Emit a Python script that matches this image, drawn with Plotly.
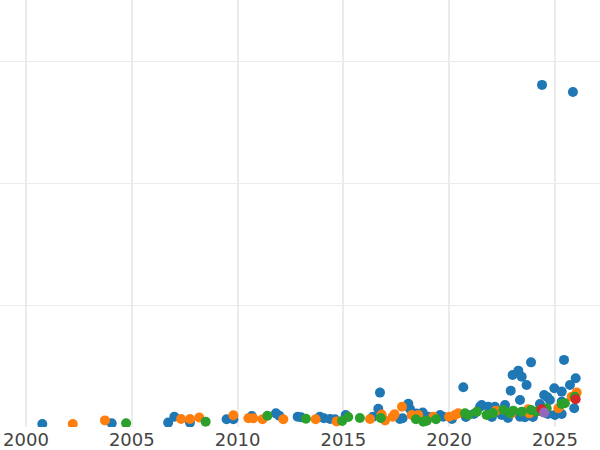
import plotly.graph_objects as go

# Blue series
blue_year = [2000.77, 2004.05, 2006.72, 2007.01, 2007.75, 2009.48, 2009.80, 2010.67, 2011.81, 2011.97,
             2012.84, 2013.00, 2013.89, 2014.08, 2014.37, 2014.60, 2015.11, 2016.40, 2016.73, 2016.65,
             2017.67, 2018.07, 2018.15, 2017.80, 2018.45, 2018.75, 2019.01, 2019.57, 2019.72, 2020.67,
             2021.17, 2021.46, 2021.54, 2021.85, 2022.16, 2022.48, 2022.64, 2023.00, 2023.27, 2023.43,
             2022.91, 2023.35, 2023.35, 2023.66, 2023.87, 2024.39, 2025.85, 2025.43, 2025.98, 2025.71,
             2024.97, 2025.32, 2024.49, 2024.65, 2024.29, 2024.76, 2025.91, 2025.32, 2025.00, 2025.32,
             2023.58, 2020.13, 2020.79, 2022.02, 2022.78, 2023.96, 2024.67]
blue_value = [12, 15, 18, 42, 18, 32, 32, 45, 56, 46,
              42, 40, 42, 36, 33, 32, 49, 42, 141, 75,
              33, 95, 74, 36, 55, 59, 42, 49, 42, 163,
              53, 83, 90, 83, 83, 49, 90, 213, 231, 206,
              149, 111, 42, 172, 265, 1402, 1373, 275, 200, 172,
              159, 145, 131, 122, 94, 111, 77, 104, 49, 53,
              40, 33, 41, 41, 37, 41, 53]

# Orange series
orange_year = [2002.21, 2003.73, 2007.33, 2007.75, 2008.19, 2009.80, 2010.51, 2010.74, 2011.18, 2012.16,
               2013.69, 2014.68, 2016.26, 2016.81, 2016.97, 2017.33, 2017.42, 2017.77, 2018.23, 2018.54,
               2019.25, 2020.00, 2020.27, 2020.43, 2022.21, 2022.95, 2023.79, 2023.74, 2025.16, 2026.03,
               2025.79, 2024.29]
orange_value = [12, 27, 33, 33, 39, 48, 36, 36, 32, 32,
                32, 23, 33, 51, 27, 42, 52, 83, 49, 49,
                42, 42, 49, 56, 67, 56, 56, 73, 77, 141,
                124, 66]

# Green series
green_year = [2004.73, 2008.49, 2011.41, 2013.23, 2014.94, 2015.23, 2015.78, 2016.77, 2018.43, 2018.78,
              2018.94, 2019.38, 2020.75, 2020.90, 2021.31, 2021.77, 2022.56, 2023.03, 2023.43, 2023.87,
              2024.13, 2024.61, 2025.32, 2025.47, 2025.94, 2022.07, 2022.87]
green_value = [15, 22, 46, 34, 25, 41, 37, 37, 32, 22,
               26, 32, 56, 49, 63, 49, 70, 67, 63, 70,
               63, 77, 94, 97, 124, 57, 57]

# Red series
red_year = [2025.98, 2024.37]
red_value = [114, 73]

# Purple series
purple_year = [2024.49]
purple_value = [59]

x_ticks = [2000, 2005, 2010, 2015, 2020, 2025]
x_tick_labels = ["2000", "2005", "2010", "2015", "2020", "2025"]

series = [
    (blue_year, blue_value, "#1f77b4"),
    (orange_year, orange_value, "#ff7f0e"),
    (green_year, green_value, "#2ca02c"),
    (red_year, red_value, "#d62728"),
    (purple_year, purple_value, "#9467bd"),
]

fig = go.Figure()
for xs, ys, col in series:
    fig.add_trace(go.Scatter(x=xs, y=ys, mode="markers",
                             marker=dict(size=10, color=col, line=dict(width=0)),
                             showlegend=False))

fig.update_layout(
    width=600, height=450,
    margin=dict(l=0, r=0, t=0, b=23, pad=0),
    plot_bgcolor="white", paper_bgcolor="white",
    font=dict(family="DejaVu Sans", size=18, color="#444"),
)
fig.update_xaxes(range=[1998.77, 2027.13], tickvals=x_ticks, ticktext=x_tick_labels,
                 showgrid=True, gridcolor="#ebebeb", gridwidth=2, zeroline=False,
                 showline=False, ticks="", automargin=False)
fig.update_yaxes(range=[0, 1750], dtick=500, showticklabels=False,
                 showgrid=True, gridcolor="#ebebeb", gridwidth=1, zeroline=False,
                 showline=False, ticks="", automargin=False)

fig.write_html("out.html", config={"displayModeBar": False},
               post_script="document.body.style.margin='0';")
